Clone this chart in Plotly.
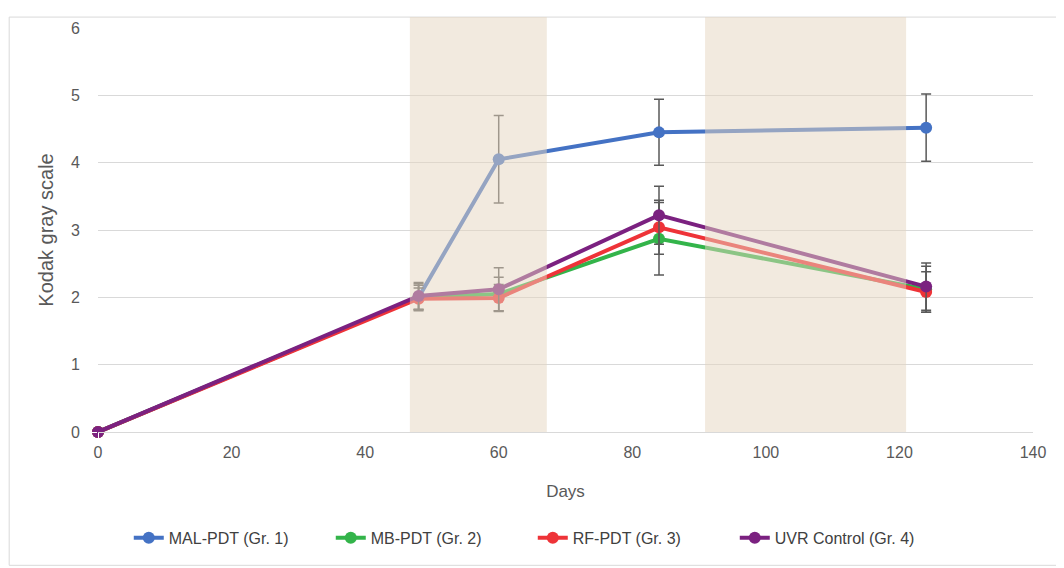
import plotly.graph_objects as go

days = [0, 48, 60, 84, 124]
series_names = ["MAL-PDT (Gr. 1)", "MB-PDT (Gr. 2)", "RF-PDT (Gr. 3)", "UVR Control (Gr. 4)"]
mal = [0, 2.00, 4.05, 4.45, 4.52]
mal_err = [0, 0.20, 0.65, 0.49, 0.50]
mb = [0, 2.00, 2.05, 2.87, 2.12]
mb_err = [0, 0.18, 0.25, 0.54, 0.34]
rf = [0, 1.98, 1.99, 3.04, 2.08]
rf_err = [0, 0.16, 0.20, 0.40, 0.30]
uvr = [0, 2.02, 2.12, 3.22, 2.16]
uvr_err = [0, 0.20, 0.32, 0.43, 0.35]
colors = ["#4472C4", "#33B44A", "#EE3338", "#7B2180"]
shade_periods = [(46.7, 67.2), (90.9, 121.0)]

FONT = "Liberation Sans, Arial"

fig = go.Figure()
for name, vals, errs, col in zip(series_names, [mal, mb, rf, uvr],
                                 [mal_err, mb_err, rf_err, uvr_err], colors):
    fig.add_trace(go.Scatter(
        x=days, y=vals, name=name, mode="lines+markers",
        line=dict(color=col, width=4),
        marker=dict(color=col, size=12),
        error_y=dict(type="data", array=errs, visible=True,
                     color="#595959", thickness=1.5, width=5),
        cliponaxis=False,
    ))

for x0, x1 in shade_periods:
    fig.add_shape(type="rect", xref="x", yref="paper", x0=x0, x1=x1, y0=0, y1=1.027,
                  fillcolor="rgb(230,214,192)", opacity=0.5, line_width=0, layer="above")

# outer chart border
fig.add_shape(type="rect", xref="paper", yref="paper", x0=-0.095, x1=1.1, y0=-0.33, y1=1.027,
              line=dict(color="#D9D9D9", width=1), fillcolor="rgba(0,0,0,0)", layer="below")

fig.update_layout(
    width=1064, height=568,
    margin=dict(l=90, r=39, t=12, b=144),
    paper_bgcolor="white", plot_bgcolor="white",
    font=dict(family=FONT, size=16, color="#595959"),
    showlegend=True,
    legend=dict(orientation="h", x=0.465, xanchor="center", y=-0.22, yanchor="top",
                font=dict(size=16, color="#404040"), traceorder="normal",
                entrywidth=157, entrywidthmode="pixels"),
    xaxis=dict(range=[0, 140], dtick=20, showgrid=False, zeroline=False,
               showline=True, linecolor="#D9D9D9", linewidth=1,
               title=dict(text="Days", standoff=24, font=dict(size=17)),
               tickfont=dict(size=16), ticks="outside", ticklen=6, tickcolor="white"),
    yaxis=dict(range=[0, 6], dtick=1, showgrid=True, gridcolor="#D9D9D9", gridwidth=1,
               zeroline=False, showline=False,
               title=dict(text="Kodak gray scale", standoff=11, font=dict(size=20)),
               tickfont=dict(size=16), ticks="outside", ticklen=14, tickcolor="white"),
)

fig.write_html("out.html")
